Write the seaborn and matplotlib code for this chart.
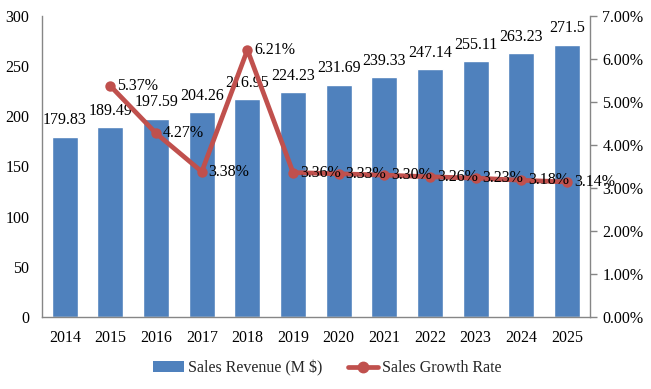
import matplotlib
matplotlib.use("Agg")
import matplotlib.pyplot as plt
import seaborn as sns
import pandas as pd
from matplotlib.patches import Patch
from matplotlib.lines import Line2D
from matplotlib.ticker import FuncFormatter, MultipleLocator

years = ["2014", "2015", "2016", "2017", "2018", "2019", "2020", "2021", "2022", "2023", "2024", "2025"]
revenue = [179.83, 189.49, 197.59, 204.26, 216.95, 224.23, 231.69, 239.33, 247.14, 255.11, 263.23, 271.5]
growth_years = ["2015", "2016", "2017", "2018", "2019", "2020", "2021", "2022", "2023", "2024", "2025"]
growth = [5.37, 4.27, 3.38, 6.21, 3.36, 3.33, 3.30, 3.26, 3.23, 3.18, 3.14]

sns.set_theme(style="white")
plt.rcParams['font.family'] = ['Liberation Serif', 'DejaVu Serif']
FS = 11.5

bar_color = "#4F81BD"
line_color = "#C0504D"
grey = "#868686"

fig = plt.figure(figsize=(6.51, 3.89), dpi=100)
ax = fig.add_axes([0.0645, 0.185, 0.8415, 0.774])

df = pd.DataFrame({"year": years, "revenue": revenue})
sns.barplot(data=df, x="year", y="revenue", color=bar_color, saturation=1,
            width=0.57, ax=ax, zorder=2)
ax.bar_label(ax.containers[0], labels=[f"{v:g}" for v in revenue],
             padding=6, fontsize=FS, color="black")

ax.set_xlim(-0.5, len(years) - 0.5)
ax.set_ylim(0, 300)
ax.yaxis.set_major_locator(MultipleLocator(50))
ax.set_xlabel("")
ax.set_ylabel("")
ax.tick_params(axis="x", length=0, pad=9, labelsize=FS, colors="black")
ax.tick_params(axis="y", length=0, pad=9, labelsize=FS, colors="black")
for s in ["top", "right"]:
    ax.spines[s].set_visible(False)
for s in ["left", "bottom"]:
    ax.spines[s].set_color(grey)
    ax.spines[s].set_linewidth(1.0)

ax2 = ax.twinx()
xpos = [years.index(y) for y in growth_years]
gdf = pd.DataFrame({"x": xpos, "growth": growth})
sns.lineplot(data=gdf, x="x", y="growth", ax=ax2, color=line_color,
             linewidth=3.4, marker="o", markersize=7.5, markeredgewidth=0,
             zorder=3)
for x, v in zip(xpos, growth):
    ax2.annotate(f"{v:.2f}%", (x, v), xytext=(5, 0), textcoords="offset points",
                 ha="left", va="center", fontsize=FS, color="black", zorder=4)
ax2.set_ylim(0, 7)
ax2.yaxis.set_major_locator(MultipleLocator(1))
ax2.yaxis.set_major_formatter(FuncFormatter(lambda v, p: f"{v:.2f}%"))
ax2.set_xlabel("")
ax2.set_ylabel("")
ax2.set_xlim(-0.5, len(years) - 0.5)
ax2.tick_params(axis="y", length=5, width=1, color=grey, pad=4, labelsize=FS, colors="black")
ax2.tick_params(axis="y", color=grey)
for s in ["top", "left", "bottom"]:
    ax2.spines[s].set_visible(False)
ax2.spines["right"].set_color(grey)
ax2.spines["right"].set_linewidth(1.0)
ax2.grid(False)
ax.grid(False)

handles = [Patch(facecolor=bar_color, edgecolor="none"),
           Line2D([0], [0], color=line_color, linewidth=3.4, marker="o", markersize=7.5)]
fig.legend(handles, ["Sales Revenue (M $)", "Sales Growth Rate"],
           loc="center", bbox_to_anchor=(0.503, 0.053), ncol=2, frameon=False,
           fontsize=FS, handlelength=1.9, handleheight=0.7, columnspacing=1.6,
           handletextpad=0.25)

fig.savefig("out.png", dpi=100)
